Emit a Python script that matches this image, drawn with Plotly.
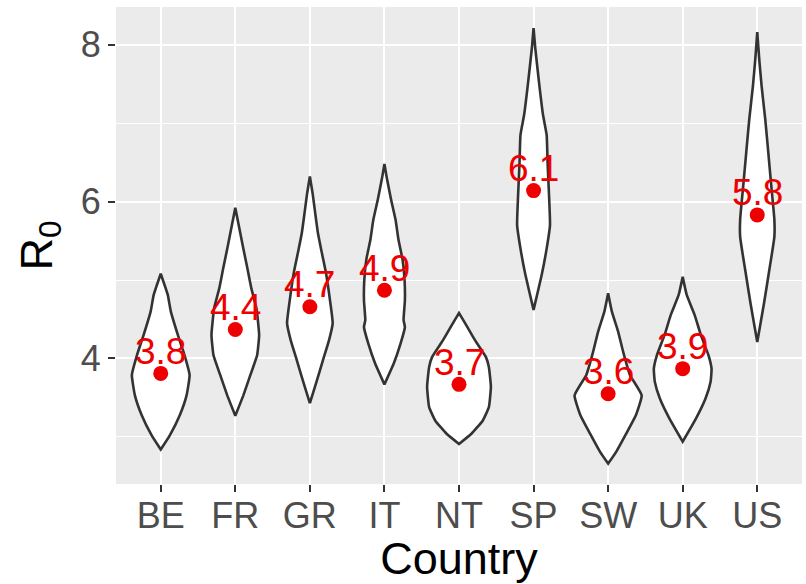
import plotly.graph_objects as go

# ---- data ----
countries = ["BE", "FR", "GR", "IT", "NT", "SP", "SW", "UK", "US"]
r0_point = [3.81, 4.37, 4.66, 4.87, 3.67, 6.14, 3.55, 3.87, 5.83]
r0_label = ["3.8", "4.4", "4.7", "4.9", "3.7", "6.1", "3.6", "3.9", "5.8"]

# violin profiles: R0 grid values (top -> bottom) and relative density (max = 1)
be_r0 = [5.08, 4.81, 4.60, 4.30, 4.04, 3.79, 3.53, 3.28, 3.02, 2.84]
be_den = [0, 0.21, 0.30, 0.51, 0.71, 0.86, 0.77, 0.57, 0.27, 0]
fr_r0 = [5.92, 5.66, 5.40, 5.15, 4.89, 4.64, 4.30, 4.04, 3.79, 3.53, 3.27]
fr_den = [0, 0.12, 0.24, 0.36, 0.48, 0.63, 0.71, 0.65, 0.45, 0.24, 0]
gr_r0 = [6.32, 6.11, 5.85, 5.60, 5.34, 5.09, 4.74, 4.45, 4.23, 3.98, 3.72, 3.43]
gr_den = [0, 0.08, 0.16, 0.24, 0.36, 0.48, 0.60, 0.68, 0.57, 0.39, 0.21, 0]
it_r0 = [6.48, 6.28, 6.02, 5.77, 5.51, 5.26, 5.00, 4.74, 4.49, 4.40, 4.19, 3.94, 3.67]
it_den = [0, 0.08, 0.20, 0.33, 0.42, 0.54, 0.60, 0.61, 0.57, 0.61, 0.48, 0.28, 0]
nt_r0 = [4.58, 4.40, 4.23, 4.02, 3.89, 3.64, 3.38, 3.21, 3.04, 2.91]
nt_den = [0, 0.25, 0.48, 0.80, 0.89, 0.95, 0.89, 0.71, 0.37, 0]
sp_r0 = [8.21, 7.96, 7.53, 7.11, 6.85, 6.47, 6.09, 5.70, 5.40, 5.06, 4.62]
sp_den = [0, 0.05, 0.16, 0.28, 0.39, 0.42, 0.46, 0.49, 0.39, 0.24, 0]
sw_r0 = [4.83, 4.60, 4.34, 4.08, 3.79, 3.53, 3.28, 3.02, 2.81, 2.66]
sw_den = [0, 0.11, 0.30, 0.45, 0.65, 1.00, 0.83, 0.51, 0.24, 0]
uk_r0 = [5.04, 4.81, 4.55, 4.30, 4.04, 3.87, 3.70, 3.49, 3.23, 2.94]
uk_den = [0, 0.12, 0.36, 0.54, 0.77, 0.86, 0.83, 0.68, 0.39, 0]
us_r0 = [8.16, 7.81, 7.47, 7.04, 6.62, 6.19, 5.77, 5.55, 5.13, 4.70, 4.21]
us_den = [0, 0.06, 0.13, 0.24, 0.33, 0.42, 0.51, 0.51, 0.36, 0.20, 0]

profiles_r0 = [be_r0, fr_r0, gr_r0, it_r0, nt_r0, sp_r0, sw_r0, uk_r0, us_r0]
profiles_den = [be_den, fr_den, gr_den, it_den, nt_den, sp_den, sw_den, uk_den, us_den]

y_ticks = [4, 6, 8]

# ---- styling ----
HALF_WIDTH = 0.45
FONT = "Liberation Sans, Arial, sans-serif"

fig = go.Figure()

for i, (r0s, dens) in enumerate(zip(profiles_r0, profiles_den)):
    xs = [i + HALF_WIDTH * d for d in dens] + [i - HALF_WIDTH * d for d in reversed(dens)]
    ys = list(r0s) + list(reversed(r0s))
    xs.append(xs[0])
    ys.append(ys[0])
    fig.add_trace(go.Scatter(
        x=xs, y=ys, mode="lines", fill="toself", fillcolor="white",
        line=dict(color="#333333", width=2.6, shape="spline", smoothing=0.4),
        hoverinfo="skip", showlegend=False,
    ))

x_idx = list(range(len(countries)))
fig.add_trace(go.Scatter(
    x=x_idx, y=r0_point, mode="markers",
    marker=dict(color="#EE0000", size=15, line=dict(width=0)),
    showlegend=False,
))

for i, (v, lab) in enumerate(zip(r0_point, r0_label)):
    fig.add_annotation(
        x=i, y=v, text=lab, showarrow=False,
        xanchor="center", yanchor="middle", yshift=22,
        font=dict(family=FONT, size=37, color="#EE0000"),
    )

fig.update_layout(
    width=806, height=584,
    margin=dict(l=116, r=4, t=7, b=100),
    paper_bgcolor="white", plot_bgcolor="#EBEBEB",
    font=dict(family=FONT),
    showlegend=False,
)
fig.update_xaxes(
    range=[-0.6, 8.6], tickmode="array", tickvals=x_idx, ticktext=countries,
    showgrid=True, gridcolor="white", gridwidth=2, zeroline=False,
    ticks="outside", ticklen=7, tickwidth=2, tickcolor="#333333",
    ticklabelstandoff=-7,
    tickfont=dict(family=FONT, size=36, color="#4D4D4D"),
    title=dict(text="Country", font=dict(family=FONT, size=45, color="black"), standoff=2),
    showline=False,
)
fig.update_yaxes(
    range=[2.40, 8.48], tickmode="array", tickvals=y_ticks,
    showgrid=True, gridcolor="white", gridwidth=2, zeroline=False,
    minor=dict(tickmode="array", tickvals=[3, 5, 7], showgrid=True, gridcolor="white", gridwidth=1, ticks=""),
    ticks="outside", ticklen=7, tickwidth=2, tickcolor="#333333",
    tickfont=dict(family=FONT, size=36, color="#4D4D4D"),
    title=dict(text="R<sub>0</sub>", font=dict(family=FONT, size=45, color="black"), standoff=14),
    showline=False,
)

fig.write_html("out.html")
